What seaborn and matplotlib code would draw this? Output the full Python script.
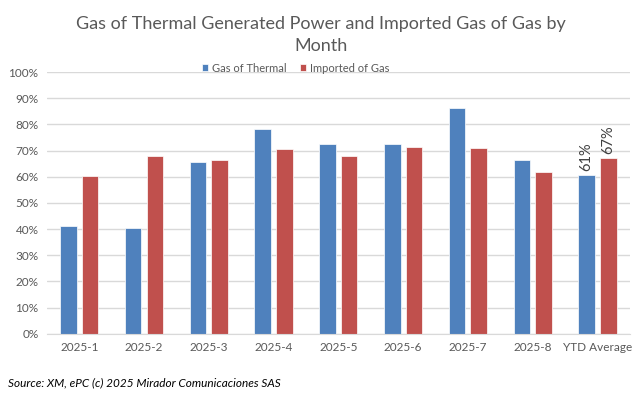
import pandas as pd
import numpy as np

import seaborn as sns
import matplotlib.pyplot as plt
from matplotlib.ticker import PercentFormatter


months = ["2025-1", "2025-2", "2025-3", "2025-4", "2025-5", "2025-6", "2025-7", "2025-8", "YTD Average"]
gas_thermal = [41.1, 40.5, 65.5, 78.4, 72.6, 72.4, 86.4, 66.5, 60.8]
imported_gas = [60.4, 67.8, 66.5, 70.6, 67.9, 71.3, 71.1, 61.7, 67.3]
series_names = ["Gas of Thermal", "Imported of Gas"]

df = pd.DataFrame({
    "month": months * 2,
    "value": gas_thermal + imported_gas,
    "series": [series_names[0]] * len(months) + [series_names[1]] * len(months),
})

sns.set_style("white")
plt.rcParams['font.family'] = ['Lato', 'DejaVu Sans']

fig = plt.figure(figsize=(6.42, 3.96), dpi=100)
ax = fig.add_axes([0.073, 0.157, 0.908, 0.661])

sns.barplot(data=df, x="month", y="value", hue="series", ax=ax,
            palette=["#4F81BD", "#C0504D"], width=0.67, gap=0.24, saturation=1,
            edgecolor="white", linewidth=0.5)

ax.set_ylim(0, 100)
ax.set_yticks(np.arange(0, 101, 10))
ax.yaxis.set_major_formatter(PercentFormatter(decimals=0))
ax.grid(axis="y", color="#D9D9D9", linewidth=1)
ax.set_axisbelow(True)
for s in ["top", "right", "left"]:
    ax.spines[s].set_visible(False)
ax.spines["bottom"].set_color("#D9D9D9")
ax.tick_params(axis="both", length=0, labelsize=8.5, colors="#595959", pad=6)
ax.set_xlabel("")
ax.set_ylabel("")

# labels on the YTD bars
last = len(months) - 1
for cont, vals in zip(ax.containers, [gas_thermal, imported_gas]):
    bar = cont[last]
    ax.text(bar.get_x() + bar.get_width() / 2, vals[last] + 1.5, f"{vals[last]:.0f}%",
            rotation=90, ha="center", va="bottom", fontsize=10.5, color="#404040")

ax.legend(loc="center", bbox_to_anchor=(0.46, 0.828), bbox_transform=fig.transFigure,
          ncol=2, frameon=False, fontsize=8, handlelength=0.6, handleheight=0.6,
          handletextpad=0.3, columnspacing=1.2, labelcolor="#595959")

fig.text(0.5, 0.912, "Gas of Thermal Generated Power and Imported Gas of Gas by\nMonth",
         ha="center", va="center", fontsize=13, color="#595959", linespacing=1.5)
fig.text(0.013, 0.033, "Source: XM, ePC (c) 2025 Mirador Comunicaciones SAS",
         ha="left", va="center", fontsize=8.5, style="italic", color="#000000")

fig.savefig("out.png", dpi=100)
